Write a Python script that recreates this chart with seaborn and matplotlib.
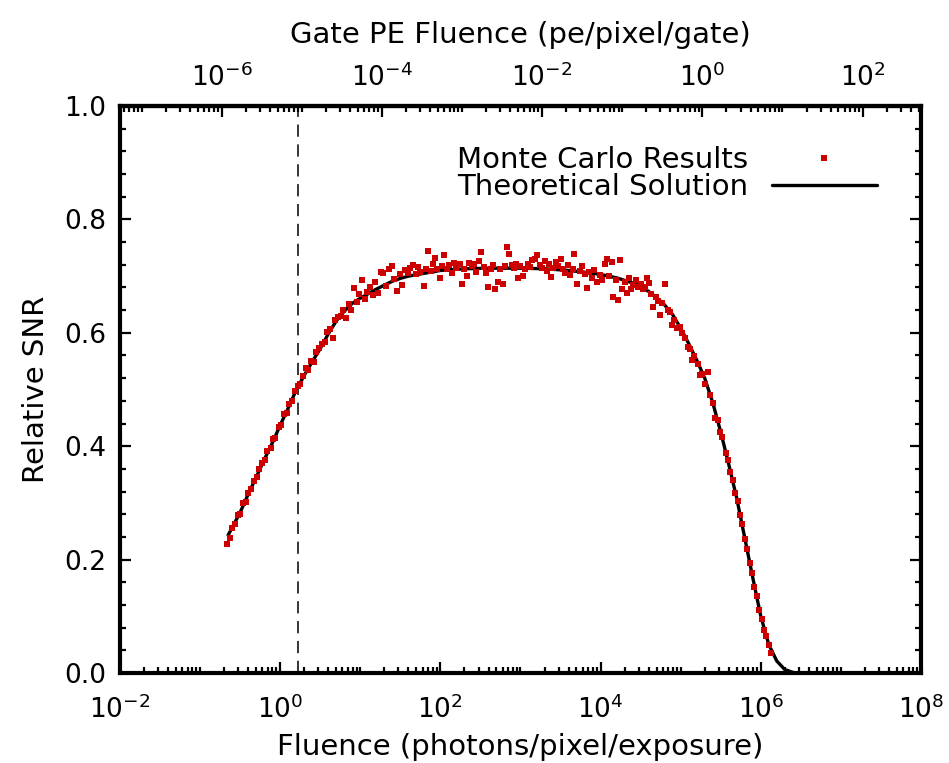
import numpy as np
import pandas as pd
import matplotlib
matplotlib.use("Agg")
import matplotlib.pyplot as plt
from matplotlib.lines import Line2D
from matplotlib.ticker import FixedLocator, FixedFormatter, NullFormatter
import seaborn as sns

# ---------------- data ----------------
# Monte Carlo results: log10(fluence) and relative SNR
mc_log_fluence = [
    -0.66, -0.63, -0.60, -0.56, -0.53, -0.50, -0.46, -0.43, -0.40, -0.36,
    -0.33, -0.29, -0.26, -0.23, -0.19, -0.16, -0.12, -0.09, -0.06, -0.02,
    0.01, 0.05, 0.08, 0.11, 0.15, 0.18, 0.22, 0.25, 0.28, 0.32,
    0.35, 0.39, 0.42, 0.45, 0.49,
    0.52, 0.56, 0.59, 0.62, 0.66, 0.69, 0.72, 0.76, 0.79, 0.82,
    0.86, 0.89, 0.92, 0.96, 0.99, 1.02, 1.06, 1.09, 1.12, 1.16,
    1.19, 1.22, 1.26, 1.29, 1.32, 1.36, 1.39, 1.42, 1.46, 1.49,
    1.52, 1.56, 1.59,
    1.62, 1.66, 1.69, 1.72, 1.75, 1.79, 1.82, 1.85, 1.88, 1.91,
    1.93, 1.96, 2.00, 2.02, 2.05, 2.08, 2.11, 2.14, 2.17, 2.20,
    2.24, 2.27, 2.30, 2.33, 2.36, 2.39, 2.42, 2.45, 2.48, 2.51,
    2.54, 2.57, 2.60, 2.63, 2.66, 2.68, 2.72, 2.75, 2.78, 2.81,
    2.83, 2.86, 2.89, 2.92, 2.95, 2.97, 3.00, 3.03, 3.06, 3.09,
    3.12, 3.15, 3.18, 3.21, 3.24, 3.27, 3.30, 3.33, 3.36, 3.38,
    3.41, 3.44, 3.47, 3.50, 3.53, 3.56, 3.59, 3.62, 3.65, 3.67,
    3.71, 3.74, 3.77, 3.80, 3.83, 3.86, 3.89, 3.92, 3.96, 3.99,
    4.02, 4.05, 4.08, 4.11, 4.14, 4.16, 4.19, 4.22, 4.24, 4.27,
    4.30, 4.33, 4.36, 4.38,
    4.41, 4.44, 4.47, 4.50, 4.53, 4.56, 4.58, 4.60, 4.63, 4.66,
    4.69, 4.72, 4.74, 4.77, 4.81, 4.84, 4.87, 4.89, 4.92, 4.96,
    4.99, 5.02, 5.05, 5.09, 5.12, 5.14, 5.17, 5.21, 5.24, 5.27,
    5.30, 5.34, 5.37, 5.40,
    5.43, 5.46, 5.49, 5.52, 5.56, 5.59, 5.62, 5.65, 5.68, 5.71,
    5.74, 5.77, 5.80, 5.83, 5.86, 5.89, 5.92, 5.95, 5.98, 6.01,
    6.04, 6.07, 6.10, 6.13,
]
mc_snr = [
    0.228, 0.238, 0.255, 0.262, 0.279, 0.281, 0.300, 0.302, 0.318, 0.324,
    0.339, 0.346, 0.359, 0.370, 0.376, 0.391, 0.397, 0.412, 0.414, 0.434,
    0.437, 0.456, 0.458, 0.474, 0.480, 0.497, 0.507, 0.509, 0.524, 0.538,
    0.534, 0.551, 0.549, 0.566, 0.574,
    0.580, 0.584, 0.601, 0.606, 0.590, 0.622, 0.628, 0.629, 0.641, 0.626,
    0.650, 0.640, 0.679, 0.655, 0.668, 0.693, 0.660, 0.672, 0.681, 0.667,
    0.689, 0.671, 0.707, 0.705, 0.683, 0.712, 0.718, 0.695, 0.674, 0.703,
    0.684, 0.711, 0.705,
    0.714, 0.720, 0.703, 0.716, 0.708, 0.682, 0.712, 0.744, 0.709, 0.721,
    0.732, 0.713, 0.697, 0.718, 0.737, 0.712, 0.720, 0.706, 0.723, 0.715,
    0.721, 0.686, 0.713, 0.700, 0.724, 0.717, 0.722, 0.708, 0.727, 0.742,
    0.716, 0.706, 0.681, 0.712, 0.719, 0.677, 0.690, 0.713, 0.686, 0.718,
    0.751, 0.739, 0.719, 0.714, 0.722, 0.697, 0.718, 0.700, 0.713, 0.721,
    0.716, 0.728, 0.731, 0.737, 0.719, 0.714, 0.726, 0.709, 0.721, 0.698,
    0.715, 0.725, 0.718, 0.731, 0.712, 0.705, 0.719, 0.702, 0.713, 0.739,
    0.686, 0.709, 0.717, 0.703, 0.679, 0.708, 0.697, 0.711, 0.690, 0.702,
    0.693, 0.722, 0.731, 0.700, 0.725, 0.663, 0.694, 0.658, 0.728, 0.677,
    0.690, 0.670, 0.696, 0.677,
    0.684, 0.693, 0.680, 0.686, 0.678, 0.681, 0.697, 0.688, 0.668, 0.646,
    0.664, 0.657, 0.631, 0.652, 0.686, 0.640, 0.637, 0.614, 0.622, 0.608,
    0.611, 0.600, 0.590, 0.575, 0.572, 0.552, 0.559, 0.545, 0.526, 0.528,
    0.510, 0.531, 0.490, 0.476,
    0.450, 0.446, 0.425, 0.417, 0.388, 0.376, 0.355, 0.341, 0.318, 0.303,
    0.279, 0.262, 0.236, 0.219, 0.194, 0.177, 0.152, 0.135, 0.111, 0.096,
    0.076, 0.066, 0.049, 0.035,
]

# Theoretical solution: log10(fluence) and relative SNR
theory_log_fluence = [
    -0.65, -0.5, -0.4, -0.3, -0.2, -0.1, 0.0, 0.1, 0.2, 0.3,
    0.4, 0.5, 0.6, 0.7, 0.8, 0.9, 1.0, 1.1, 1.2, 1.3,
    1.4, 1.5, 1.6, 1.8, 2.0, 2.3, 2.6, 3.0, 3.3, 3.6,
    3.8, 4.0, 4.2, 4.4, 4.5, 4.6, 4.7, 4.8, 4.9, 5.0,
    5.1, 5.2, 5.3, 5.4, 5.5, 5.6, 5.7, 5.8, 5.9, 6.0,
    6.1, 6.2, 6.3, 6.4, 6.45,
]
theory_snr = [
    0.243, 0.283, 0.315, 0.345, 0.376, 0.405, 0.437, 0.467, 0.499, 0.525,
    0.549, 0.572, 0.598, 0.621, 0.638, 0.652, 0.661, 0.669, 0.677, 0.684,
    0.691, 0.696, 0.700, 0.705, 0.710, 0.713, 0.714, 0.714, 0.713, 0.710,
    0.707, 0.703, 0.697, 0.688, 0.682, 0.673, 0.662, 0.649, 0.632, 0.608,
    0.581, 0.552, 0.520, 0.477, 0.425, 0.368, 0.308, 0.238, 0.168, 0.100,
    0.050, 0.021, 0.006, 0.001, 0.0,
]

threshold_fluence = 1.65          # dashed vertical line
gate_factor = 10 ** -5.27          # bottom fluence -> gate PE fluence

x_major = [1e-2, 1e0, 1e2, 1e4, 1e6, 1e8]
x_major_labels = ["10$^{-2}$", "10$^{0}$", "10$^{2}$", "10$^{4}$", "10$^{6}$", "10$^{8}$"]
top_major = [1e-6, 1e-4, 1e-2, 1e0, 1e2]
top_major_labels = ["10$^{-6}$", "10$^{-4}$", "10$^{-2}$", "10$^{0}$", "10$^{2}$"]
y_ticks = [0.0, 0.2, 0.4, 0.6, 0.8, 1.0]
y_tick_labels = ["0.0", "0.2", "0.4", "0.6", "0.8", "1.0"]

legend_labels = ["Monte Carlo Results", "Theoretical Solution"]

# ---------------- plotting ----------------
sns.set_theme(style="ticks")
plt.rcParams["font.family"] = ["DejaVu Sans"]
plt.rcParams["mathtext.fontset"] = "dejavusans"
plt.rcParams["axes.unicode_minus"] = False
for key in ["text.color", "axes.labelcolor", "xtick.color", "ytick.color",
            "axes.edgecolor"]:
    plt.rcParams[key] = "black"

mc_df = pd.DataFrame({"fluence": 10 ** np.array(mc_log_fluence), "snr": mc_snr})
th_df = pd.DataFrame({"fluence": 10 ** np.array(theory_log_fluence), "snr": theory_snr})

red = "#cc0000"
fig = plt.figure(figsize=(9.49, 7.63), dpi=100)
ax = fig.add_axes([0.1264, 0.118, 0.8441, 0.743])

ax.axvline(threshold_fluence, color="black", lw=1.1, ls=(0, (8, 5)), zorder=1)
sns.lineplot(data=th_df, x="fluence", y="snr", ax=ax, color="black", lw=2.4,
             sort=False, zorder=2, legend=False)
sns.scatterplot(data=mc_df, x="fluence", y="snr", ax=ax, color=red, marker="s",
                s=17, linewidth=0, zorder=3, legend=False)

ax.set_xscale("log")
ax.set_xlim(1e-2, 1e8)
ax.set_ylim(0, 1.0)

fs_tick = 19
fs_lab = 21

ax.xaxis.set_major_locator(FixedLocator(x_major))
ax.xaxis.set_major_formatter(FixedFormatter(x_major_labels))
minor_bottom = [k * 10.0 ** n for n in range(-2, 8) for k in range(1, 10)
                if not (k == 1 and n % 2 == 0)]
ax.xaxis.set_minor_locator(FixedLocator(minor_bottom))
ax.xaxis.set_minor_formatter(NullFormatter())

ax.yaxis.set_major_locator(FixedLocator(y_ticks))
ax.yaxis.set_major_formatter(FixedFormatter(y_tick_labels))
ax.yaxis.set_minor_locator(FixedLocator([i * 0.04 for i in range(26)]))

ax.tick_params(which="both", direction="in", top=False, right=True,
               bottom=True, left=True, width=1.6, color="black")
ax.tick_params(which="major", length=8, labelsize=fs_tick)
ax.tick_params(axis="x", which="major", pad=16)
ax.tick_params(axis="y", which="major", pad=10)
ax.tick_params(which="minor", length=4)

for sp in ax.spines.values():
    sp.set_linewidth(3.0)
    sp.set_color("black")

ax.set_xlabel("Fluence (photons/pixel/exposure)", fontsize=fs_lab, labelpad=7)
ax.set_ylabel("Relative SNR", fontsize=fs_lab, labelpad=10)

sec = ax.secondary_xaxis("top", functions=(lambda x: x * gate_factor,
                                           lambda x: x / gate_factor))
sec.xaxis.set_major_locator(FixedLocator(top_major))
sec.xaxis.set_major_formatter(FixedFormatter(top_major_labels))
minor_top = [k * 10.0 ** n for n in range(-8, 3) for k in range(1, 10)
             if not (k == 1 and n % 2 == 0)]
sec.xaxis.set_minor_locator(FixedLocator(minor_top))
sec.xaxis.set_minor_formatter(NullFormatter())
sec.tick_params(which="both", direction="in", width=1.6, color="black")
sec.tick_params(which="major", length=8, labelsize=fs_tick, pad=10)
sec.tick_params(which="minor", length=4)
sec.spines["top"].set_linewidth(3.0)
sec.set_xlabel("Gate PE Fluence (pe/pixel/gate)", fontsize=fs_lab, labelpad=15)

handles = [
    Line2D([], [], marker="s", color=red, linestyle="none", markersize=4.5, markeredgewidth=0),
    Line2D([], [], color="black", lw=2.4),
]
ax.legend(handles, legend_labels, loc="upper right", bbox_to_anchor=(0.945, 0.93),
          frameon=False, markerfirst=False, fontsize=fs_lab, handlelength=3.6,
          handletextpad=0.8, labelspacing=-0.02, borderpad=0.0, borderaxespad=0.0)

fig.savefig("out.png", dpi=100, facecolor="white")
